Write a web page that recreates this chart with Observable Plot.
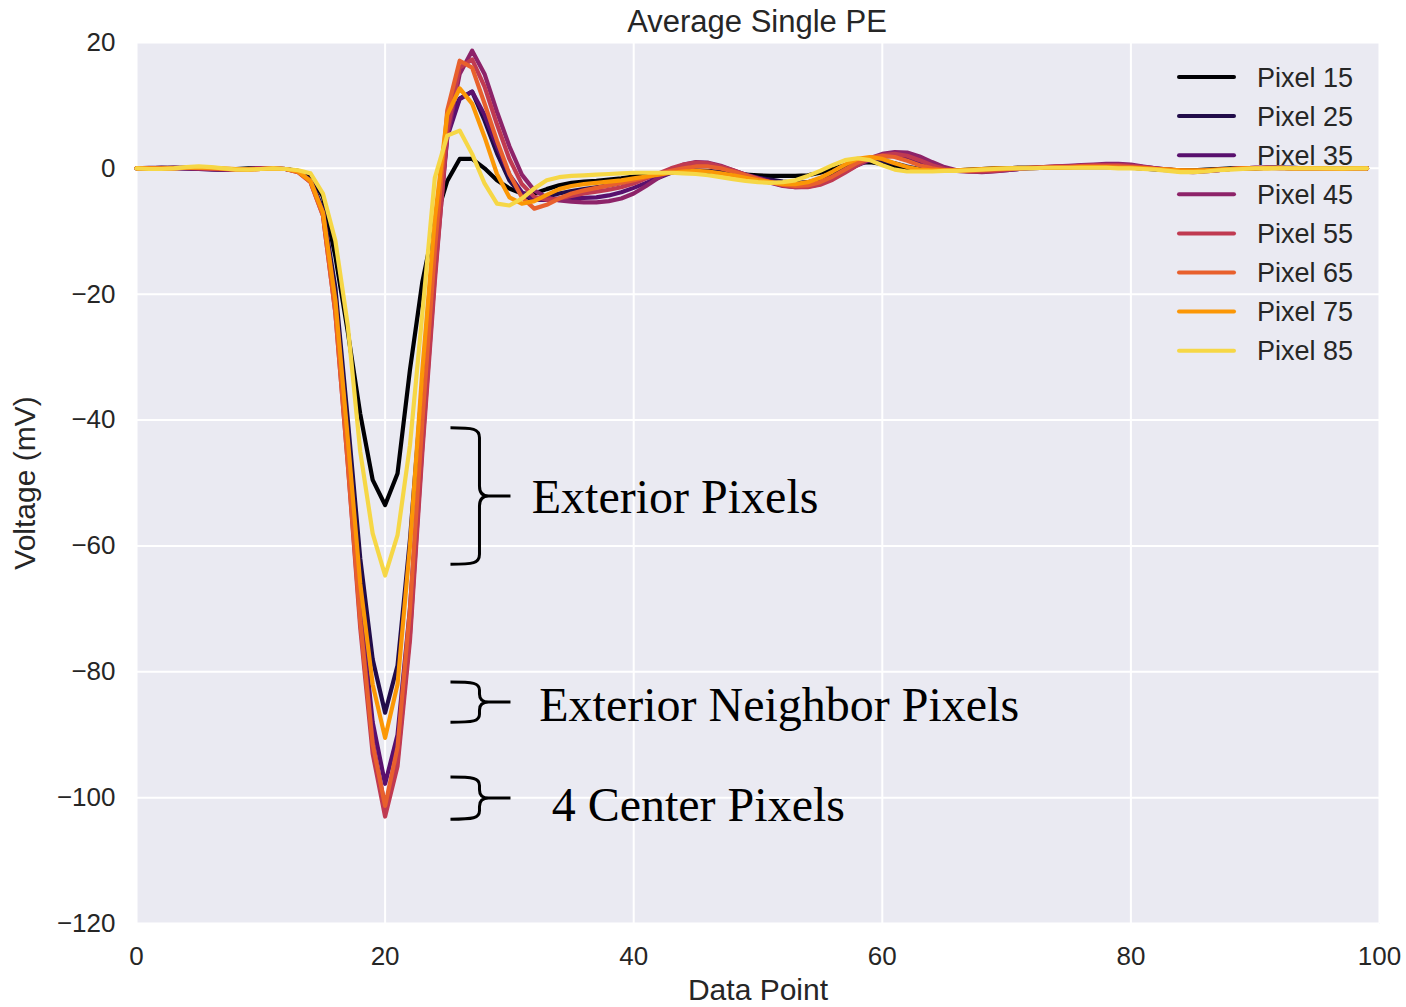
<!DOCTYPE html>
<html>
<head>
<meta charset="utf-8">
<script src="https://cdn.jsdelivr.net/npm/d3@7"></script>
<script src="https://cdn.jsdelivr.net/npm/@observablehq/plot@0.6"></script>
<style>
  body { margin: 0; background: white; }
  #title { margin: 0; height: 42px; line-height: 42px; font: 400 31px "Liberation Sans", Arial, sans-serif; color: #262626; text-align: center; padding-left: 108px; width: 1298px; }
  #title span { position: relative; top: 4px; }
  #chart svg { display: block; }
</style>
</head>
<body>
<div id="title"><span>Average Single PE</span></div>
<div id="chart"></div>
<script>
// ---------------- data ----------------
const seriesLabels = ["Pixel 15", "Pixel 25", "Pixel 35", "Pixel 45", "Pixel 55", "Pixel 65", "Pixel 75", "Pixel 85"];
const xTicks = [0, 20, 40, 60, 80, 100];
const yTicks = [-120, -100, -80, -60, -40, -20, 0, 20];

const p15 = [0,0,0.1,0.1,0.1,0,-0.1,-0.2,-0.1,0,0,-0.1,-0.1,
  -0.4,-1.2,-4.5,-14,-26,-39,-49.5,-53.5,-48.5,-32,-18,-8.5,-2,1.5,1.5,0,-1.9,
  -3.2,-4,-4,-3.3,-2.7,-2.3,-2.1,-2,-1.8,-1.6,-1.3,-1.1,-0.9,-0.7,-0.5,-0.5,-0.6,-0.7,-0.9,-1,
  -1.1,-1.2,-1.2,-1.2,-1.1,-0.7,-0.1,0.5,0.9,1.0,0.7,0.3,0,-0.2,-0.3,-0.3,-0.3,-0.2,-0.1,0,
  0,0.1,0.1,0.1,0.1,0.2,0.2,0.2,0.2,0.2,0.1,0,-0.1,-0.2,-0.3,-0.3,-0.2,-0.1,0,0,
  0,0.1,0.1,0,0,0,-0.1,-0.1,0,0];
const p25 = [0,0,0,0.1,0,-0.1,-0.1,-0.2,-0.2,-0.1,0,0,-0.1,
  -0.5,-1.8,-6.5,-19,-40,-62,-78,-86.5,-79,-59,-34,-11,6.5,11.1,12.2,7.6,2.4,
  -1.9,-4.3,-5,-4.5,-4,-3.6,-3.3,-3,-2.7,-2.3,-1.9,-1.5,-1.1,-0.7,-0.4,-0.3,-0.4,-0.6,-0.9,-1.2,
  -1.5,-1.8,-2.1,-2.3,-2.2,-1.7,-0.9,0,0.8,1.2,1.2,0.8,0.3,-0.1,-0.3,-0.4,-0.4,-0.3,-0.2,-0.1,
  0,0.1,0.1,0.2,0.2,0.2,0.3,0.3,0.3,0.2,0.1,0,-0.2,-0.3,-0.4,-0.4,-0.3,-0.2,-0.1,0,
  0,0.1,0.1,0.1,0,0,0,-0.1,0,0];
const p35 = [0,0.1,0.1,0,0,-0.1,-0.2,-0.2,-0.1,-0.1,0,0,-0.1,
  -0.5,-2,-7,-21,-44,-69,-88,-97.8,-90,-70,-42,-15,5,11,12.2,8.5,3.5,
  -1,-3.8,-5,-5,-4.8,-4.7,-4.7,-4.6,-4.3,-3.8,-3.1,-2.3,-1.5,-0.7,0,0.4,0.4,0.1,-0.4,-1,
  -1.5,-2,-2.4,-2.6,-2.5,-2.1,-1.4,-0.5,0.5,1.3,1.8,2.0,1.7,1.1,0.4,-0.1,-0.4,-0.5,-0.5,-0.4,
  -0.3,-0.1,0,0.1,0.2,0.3,0.4,0.5,0.5,0.5,0.4,0.2,0,-0.2,-0.4,-0.5,-0.4,-0.3,-0.1,0,
  0.1,0.1,0.1,0.1,0,0,0,-0.1,-0.1,0];
const p45 = [0,0,0.1,0.1,0,0,-0.1,-0.2,-0.2,-0.1,0,-0.1,-0.1,
  -0.5,-2,-7,-22,-46,-71,-91,-101.5,-94,-74,-44,-17,5,15,18.7,15,9,
  3.5,-1,-3.5,-4.6,-5.1,-5.3,-5.4,-5.4,-5.2,-4.8,-4,-2.8,-1.5,-0.3,0.6,1.0,0.9,0.4,-0.3,-1,
  -1.7,-2.3,-2.8,-3,-2.9,-2.5,-1.6,-0.5,0.6,1.6,2.3,2.6,2.5,1.9,1,0.2,-0.3,-0.5,-0.6,-0.5,
  -0.3,-0.1,0.1,0.2,0.3,0.4,0.5,0.6,0.7,0.7,0.6,0.3,0,-0.3,-0.5,-0.6,-0.5,-0.3,-0.1,0,
  0.1,0.1,0.1,0,0,0,-0.1,-0.1,0,0];
const p55 = [0,0,0,0.1,0.1,0,-0.1,-0.1,-0.2,-0.1,0,0,-0.1,
  -0.6,-2.2,-7.5,-23,-47,-73,-93,-103,-95,-75,-45,-18,6,16,17.3,13,7,
  1.5,-2.5,-4.5,-5,-4.8,-4.4,-4,-3.7,-3.4,-3,-2.4,-1.6,-0.8,0,0.6,0.9,0.8,0.3,-0.3,-1,
  -1.6,-2.2,-2.7,-3,-3,-2.6,-1.8,-0.7,0.5,1.5,2.1,2.3,2,1.3,0.5,-0.1,-0.4,-0.5,-0.5,-0.4,
  -0.2,0,0.1,0.2,0.3,0.3,0.4,0.5,0.5,0.5,0.4,0.2,0,-0.2,-0.4,-0.5,-0.4,-0.3,-0.1,0,
  0.1,0.1,0,0,0,0,-0.1,0,0,0];
const p65 = [0,0,-0.1,0,0.1,0.1,0,-0.1,-0.2,-0.2,-0.1,0,-0.1,
  -0.6,-2.2,-7.5,-23,-47,-72,-91.5,-101.3,-92,-70,-40,-13,9.2,17.1,16,10.3,4.4,
  -0.9,-4.6,-6.4,-5.8,-4.8,-4,-3.5,-3.1,-2.7,-2.3,-1.9,-1.4,-0.9,-0.4,0,0.3,0.3,0,-0.5,-1.1,
  -1.7,-2.2,-2.6,-2.8,-2.7,-2.2,-1.3,-0.2,0.9,1.7,2.0,1.8,1.2,0.5,0,-0.3,-0.4,-0.4,-0.3,-0.2,
  -0.1,0,0.1,0.1,0.2,0.2,0.3,0.3,0.3,0.3,0.2,0.1,-0.1,-0.2,-0.3,-0.4,-0.3,-0.2,-0.1,0,
  0,0.1,0.1,0,0,0,-0.1,0,0,0];
const p75 = [0,0,0,0,0.1,0.1,0.1,0,-0.1,-0.2,-0.1,0,-0.1,
  -0.5,-2,-7,-21,-43,-66,-82,-90.5,-82,-60,-32,-8,8.5,12.7,10.3,5,-0.9,
  -4.6,-5.6,-5.2,-4.2,-3.3,-2.8,-2.5,-2.3,-2.1,-1.9,-1.6,-1.3,-1,-0.7,-0.5,-0.4,-0.5,-0.8,-1.1,-1.5,
  -1.9,-2.2,-2.5,-2.5,-2.2,-1.5,-0.5,0.6,1.5,1.8,1.5,0.8,0.2,-0.2,-0.3,-0.3,-0.3,-0.2,-0.1,0,
  0,0.1,0.1,0.1,0.1,0.1,0.2,0.2,0.2,0.1,0.1,0,-0.1,-0.2,-0.3,-0.3,-0.3,-0.2,-0.1,0,
  0,0,0.1,0,0,0,0,-0.1,0,0];
const p85 = [0,-0.1,-0.1,0,0.2,0.3,0.2,0,-0.2,-0.2,-0.1,0,-0.1,
  -0.3,-0.8,-4,-11.5,-25,-45,-58,-64.7,-58.3,-44,-23,-1.5,5.2,6,2.3,-2.4,-5.6,
  -5.9,-4.8,-3.2,-1.9,-1.4,-1.2,-1.1,-1.0,-0.9,-0.8,-0.7,-0.7,-0.7,-0.7,-0.8,-0.9,-1.1,-1.4,-1.7,-2,
  -2.2,-2.3,-2.2,-1.9,-1.2,-0.4,0.5,1.3,1.6,1.3,0.5,-0.2,-0.5,-0.5,-0.5,-0.4,-0.4,-0.3,-0.2,-0.1,
  0,0,0,0.1,0.1,0.1,0.1,0.1,0.1,0,0,-0.1,-0.2,-0.4,-0.6,-0.6,-0.5,-0.3,-0.2,-0.1,
  0,0,0,0,0,0,0,0,0,0];
const seriesValues = [p15, p25, p35, p45, p55, p65, p75, p85];

// annotation braces (data units)
const braceLabels = ["Exterior Pixels", "Exterior Neighbor Pixels", "4 Center Pixels"];
const braceX = [25.3, 25.3, 25.3];
const braceTop = [-41.3, -81.7, -96.8];
const braceBottom = [-63.0, -88.1, -103.5];
const labelX = [31.8, 32.4, 33.4];
const labelY = [-52.3, -85.3, -101.2];

// ---------------- build ----------------
const colors = seriesLabels.map((_, k) => d3.interpolateInferno(k * 0.9 / 7));
const rows = [];
seriesLabels.forEach((s, k) => seriesValues[k].forEach((v, i) => rows.push({series: s, point: i, value: v})));
const braces = braceLabels.map((label, k) => ({label, x: braceX[k], top: braceTop[k], bottom: braceBottom[k], tx: labelX[k], ty: labelY[k]}));

const textColor = "#262626";
const sans = "'Liberation Sans', Arial, sans-serif";

const legendMark = (index, scales, values, dim) => {
  const g = d3.create("svg:g");
  const right = dim.width - dim.marginRight;
  seriesLabels.forEach((s, k) => {
    const y = dim.marginTop + 35 + k * 39.1;
    g.append("line")
      .attr("x1", right - 200).attr("x2", right - 145)
      .attr("y1", y).attr("y2", y)
      .attr("stroke", colors[k]).attr("stroke-width", 4).attr("stroke-linecap", "round");
    g.append("text")
      .attr("x", right - 122).attr("y", y).attr("dy", "0.36em")
      .attr("text-anchor", "start")
      .attr("fill", textColor).attr("font-size", 27).attr("font-family", sans)
      .text(s);
  });
  return g.node();
};

const braceMark = (index, scales) => {
  const g = d3.create("svg:g").attr("fill", "none").attr("stroke", "black").attr("stroke-width", 3);
  braces.forEach(b => {
    const x0 = scales.x(b.x), ya = scales.y(b.top), yb = scales.y(b.bottom);
    const m = (ya + yb) / 2;
    const xv = x0 + 29, xt = x0 + 60;
    const r = Math.min(10, (yb - ya) / 5);
    const d = `M${x0},${ya} C${xv - 6},${ya} ${xv},${ya + 1} ${xv},${ya + r}` +
              ` L${xv},${m - r} Q${xv},${m} ${xv + 9},${m} L${xt},${m}` +
              ` M${xv + 9},${m} Q${xv},${m} ${xv},${m + r}` +
              ` L${xv},${yb - r} C${xv},${yb - 1} ${xv - 6},${yb} ${x0},${yb}`;
    g.append("path").attr("d", d);
  });
  return g.node();
};

const chart = Plot.plot({
  width: 1406,
  height: 965,
  marginTop: 0,
  marginLeft: 136,
  marginRight: 27,
  marginBottom: 84,
  style: {overflow: "visible", background: "white", fontFamily: sans, color: textColor},
  x: {domain: [0, 100]},
  y: {domain: [-120, 20]},
  color: {domain: seriesLabels, range: colors},
  marks: [
    Plot.frame({fill: "#EAEAF2", stroke: "none"}),
    Plot.gridX({ticks: xTicks, stroke: "white", strokeOpacity: 1, strokeWidth: 2}),
    Plot.gridY({ticks: yTicks, stroke: "white", strokeOpacity: 1, strokeWidth: 2}),
    Plot.axisX({ticks: xTicks, tickSize: 0, tickPadding: 23, fontSize: 26, label: null, fill: textColor}),
    Plot.axisY({ticks: yTicks, tickSize: 0, tickPadding: 21, fontSize: 26, label: null, fill: textColor}),
    Plot.text(["Data Point"], {frameAnchor: "bottom", dy: 67, fontSize: 30, fill: textColor, lineAnchor: "middle"}),
    Plot.text(["Voltage (mV)"], {frameAnchor: "left", dx: -111, rotate: -90, textAnchor: "middle", lineAnchor: "middle", fontSize: 30, fill: textColor}),
    legendMark,
    Plot.line(rows, {x: "point", y: "value", z: "series", stroke: "series", strokeWidth: 4.2, curve: "linear"}),
    braceMark,
    Plot.text(braces, {x: "tx", y: "ty", text: "label", textAnchor: "start", lineAnchor: "middle", fontFamily: "'Liberation Serif', 'Times New Roman', serif", fontSize: 48, fill: "black"})
  ]
});
document.getElementById("chart").appendChild(chart);
</script>
</body>
</html>
